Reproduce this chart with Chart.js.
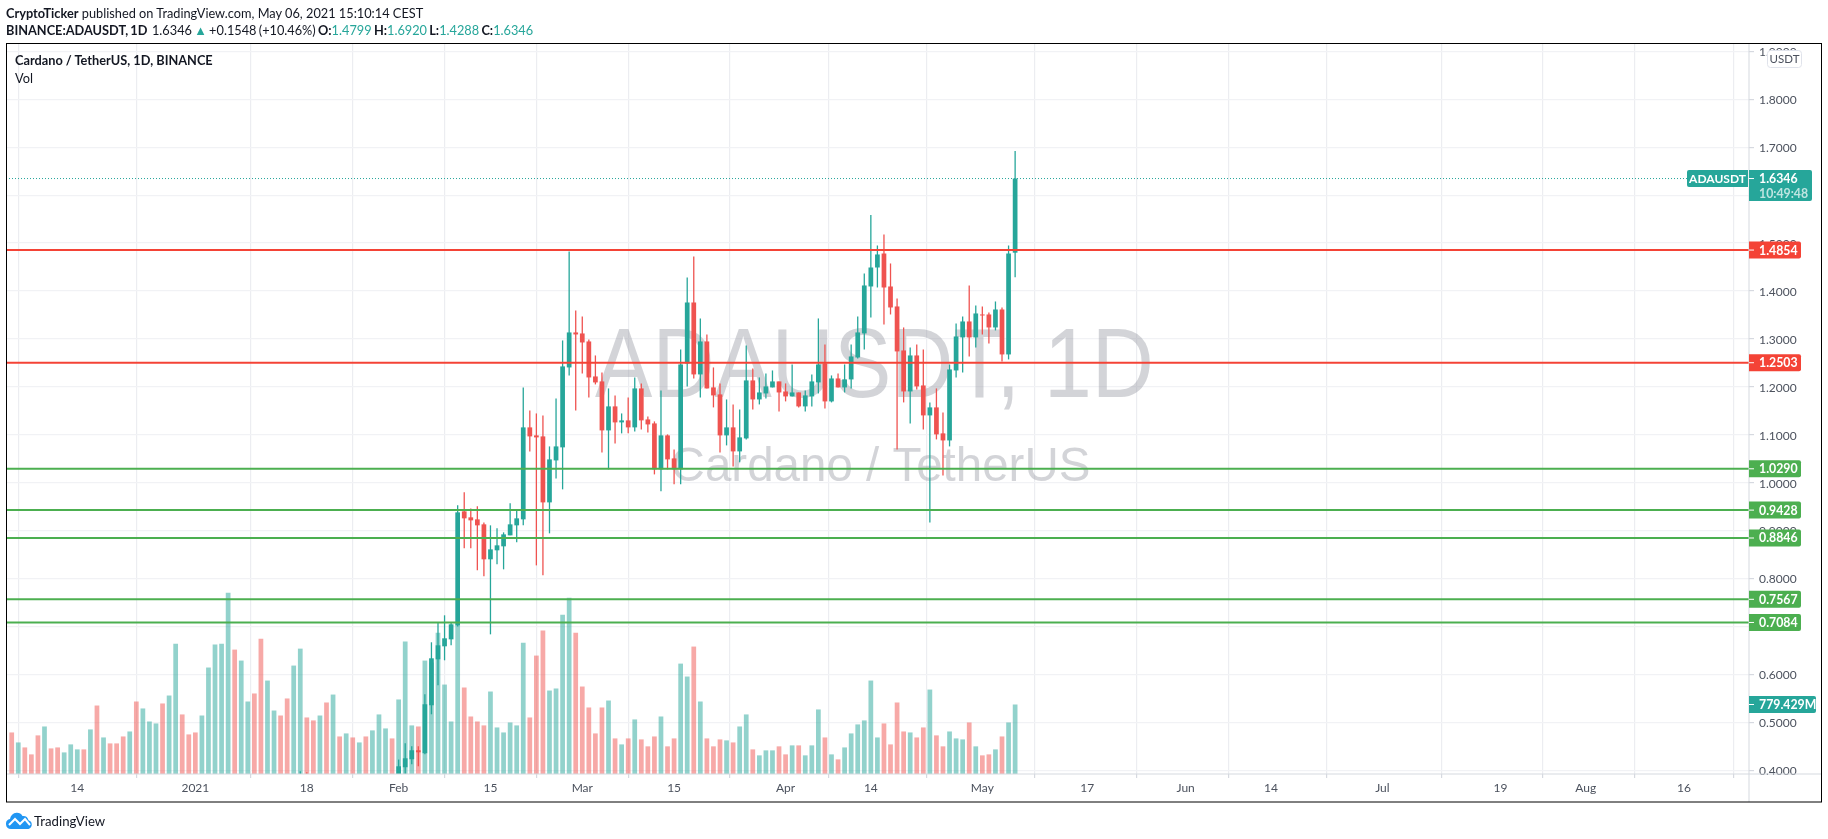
<!DOCTYPE html>
<html>
<head>
<meta charset="utf-8">
<title>ADAUSDT 1D</title>
<script src="https://cdn.jsdelivr.net/npm/chart.js@4"></script>
<style>
    html, body { margin: 0; padding: 0; background: #fff; overflow: hidden; }
    #wrap { position: relative; width: 1828px; height: 839px; font-family: Lato, sans-serif; color: #131722; }
    #chart { position: absolute; left: 0; top: 0; }
    .txt { position: absolute; white-space: nowrap; font-size: 12.75px; line-height: 16px; }
    .txt b { font-weight: 700; }
    .up { color: #26a69a; }
</style>
</head>
<body>
<div id="wrap">
    <canvas id="chart" width="1828" height="839"></canvas>
    <div class="txt" style="left:6px;top:5px"><b>CryptoTicker</b> published on TradingView.com, May 06, 2021 15:10:14 CEST</div>
    <div class="txt" style="left:6px;top:22px;word-spacing:-1px"><b>BINANCE:ADAUSDT, 1D</b>&nbsp; 1.6346 <span class="up">▲</span> +0.1548 (+10.46%) <b>O:</b><span class="up">1.4799</span> <b>H:</b><span class="up">1.6920</span> <b>L:</b><span class="up">1.4288</span> <b>C:</b><span class="up">1.6346</span></div>
    <div class="txt" style="left:15px;top:52px"><b>Cardano / TetherUS, 1D, BINANCE</b></div>
    <div class="txt" style="left:15px;top:70px">Vol</div>
    <svg style="position:absolute;left:6px;top:812px" width="27" height="17" viewBox="0 0 27 17">
        <path fill="#2196f3" d="M5 17a5 5 0 0 1-1-9.9A7 7 0 0 1 10.500.8 6.500 6.500 0 0 1 16.500 4a5.500 5.500 0 0 1 6 4.200A4.600 4.600 0 0 1 22.500 17z"/>
        <path fill="none" stroke="#fff" stroke-width="2" d="M3 13l6-6 5 5 5-5 5 6"/>
    </svg>
    <div class="txt" style="left:34px;top:813px;font-size:13.2px">TradingView</div>
</div>

<script>
// ==================== DATA ====================
// days are counted from 1 Jan 2021 (0 = 1 Jan)
const firstVolumeDay = -28;
const firstCandleDay = 16;

const xTickDays = [-18, 0, 17, 31, 45, 59, 73, 90, 103, 120, 136, 151, 164, 181, 199, 212, 227];
const xTickLabels = ['14', '2021', '18', 'Feb', '15', 'Mar', '15', 'Apr', '14', 'May', '17', 'Jun', '14', 'Jul', '19', 'Aug', '16'];
const priceTicks = [0.4, 0.5, 0.6, 0.7, 0.8, 0.9, 1.0, 1.1, 1.2, 1.3, 1.4, 1.5, 1.6, 1.7, 1.8, 1.9];

const opens = [
    0.332, 0.372, 0.363, 0.350, 0.372, 0.335, 0.345, 0.320, 0.335, 0.330, 0.355, 0.340, 0.355, 0.360, 0.375,
    0.362, 0.4063, 0.4230, 0.4417, 0.4355, 0.5356, 0.6315, 0.6586, 0.6732, 0.7024,
    0.9402, 0.9277, 0.9235, 0.9131, 0.8401, 0.8589, 0.8672, 0.8901, 0.9110, 0.9235,
    1.1154, 1.0987, 1.0966, 0.9589, 1.0465, 1.0737, 1.2405, 1.3135, 1.3114, 1.2947,
    1.2217, 1.2113, 1.1091, 1.1592, 1.1258, 1.1300, 1.1154, 1.1967, 1.1320, 1.1237,
    1.0278, 1.0987, 1.0507, 1.0278, 1.2488, 1.3760, 1.2259, 1.2947, 1.1988, 1.1842,
    1.0987, 1.1154, 1.0653, 1.0924, 1.2134, 1.1737, 1.1862, 1.1988, 1.2113, 1.1904,
    1.1800, 1.1883, 1.1592, 1.1800, 1.2092, 1.2488, 1.1696, 1.2175, 1.1988, 1.2155,
    1.2613, 1.3114, 1.4094, 1.4490, 1.4782, 1.4094, 1.3677, 1.2759, 1.1904, 1.2655,
    1.2029, 1.1404, 1.1571, 1.1029, 1.0882, 1.2342, 1.3031, 1.3364, 1.3031, 1.3510,
    1.3510, 1.3239, 1.3614, 1.2676, 1.4799
];
const highs = [
    0.398, 0.396, 0.385, 0.378, 0.380, 0.355, 0.350, 0.345, 0.350, 0.370, 0.375, 0.365, 0.375, 0.385, 0.388,
    0.4223, 0.4563, 0.4500, 0.4500, 0.5585, 0.6670, 0.7087, 0.7233, 0.7087, 0.9527,
    0.9798, 0.9464, 0.9506, 0.9172, 0.9110, 0.9047, 0.8964, 0.9569, 0.9422, 1.1988,
    1.1508, 1.1445, 1.1404, 1.0757, 1.1758, 1.2968, 1.4824, 1.3594, 1.3469, 1.2989,
    1.2655, 1.2301, 1.1967, 1.1821, 1.1445, 1.1779, 1.2196, 1.2071, 1.1383, 1.1279,
    1.1925, 1.1008, 1.0695, 1.2780, 1.4282, 1.4720, 1.3427, 1.3093, 1.2405, 1.2071,
    1.1737, 1.1633, 1.1529, 1.2864, 1.2384, 1.2196, 1.2280, 1.2342, 1.2113, 1.2071,
    1.2467, 1.1883, 1.1925, 1.2259, 1.3427, 1.2884, 1.2238, 1.2280, 1.2467, 1.2884,
    1.3469, 1.4365, 1.5585, 1.4949, 1.5179, 1.4574, 1.3844, 1.3239, 1.2822, 1.2884,
    1.2780, 1.1675, 1.1967, 1.1466, 1.2467, 1.3323, 1.3469, 1.4115, 1.3698, 1.3677,
    1.3552, 1.3781, 1.3656, 1.4949, 1.6920
];
const lows = [
    0.319, 0.338, 0.345, 0.340, 0.325, 0.300, 0.305, 0.310, 0.325, 0.320, 0.320, 0.330, 0.340, 0.345, 0.350,
    0.350, 0.385, 0.4125, 0.4083, 0.4334, 0.5168, 0.5773, 0.6294, 0.6607, 0.7000,
    0.8630, 0.8630, 0.8171, 0.8046, 0.6836, 0.8296, 0.8192, 0.8901, 0.8755, 0.9110,
    1.0653, 0.8275, 0.8067, 0.8943, 1.0090, 0.9861, 1.2238, 1.1508, 1.2280, 1.1779,
    1.2050, 1.0632, 1.0278, 1.0820, 1.1029, 1.1029, 1.1070, 1.1112, 1.1049, 1.0173,
    0.9819, 1.0278, 0.9965, 0.9965, 1.2009, 1.2175, 1.1779, 1.1967, 1.1571, 1.0632,
    1.0778, 1.0340, 1.0424, 1.0903, 1.1529, 1.1633, 1.1758, 1.1988, 1.1487, 1.1696,
    1.1800, 1.1571, 1.1487, 1.1592, 1.1862, 1.1550, 1.1675, 1.1988, 1.1883, 1.1967,
    1.2593, 1.2780, 1.3448, 1.4073, 1.3302, 1.3510, 1.0695, 1.1675, 1.1237, 1.1946,
    1.1112, 0.9172, 1.0903, 1.0152, 1.0757, 1.2196, 1.2301, 1.2634, 1.2822, 1.3093,
    1.2906, 1.3177, 1.2530, 1.2572, 1.4288
];
const closes = [
    0.372, 0.363, 0.350, 0.372, 0.335, 0.345, 0.320, 0.335, 0.330, 0.355, 0.340, 0.355, 0.360, 0.375, 0.362,
    0.4083, 0.4250, 0.4417, 0.4375, 0.5377, 0.6336, 0.6607, 0.6753, 0.7045, 0.9381,
    0.9256, 0.9214, 0.9110, 0.8401, 0.8609, 0.8693, 0.8922, 0.9131, 0.9256, 1.1154,
    1.0966, 1.0945, 0.9589, 1.0486, 1.0757, 1.2426, 1.3135, 1.3093, 1.2926, 1.2196,
    1.2092, 1.1091, 1.1592, 1.1258, 1.1300, 1.1154, 1.1967, 1.1300, 1.1216, 1.0278,
    1.0987, 1.0486, 1.0278, 1.2467, 1.3760, 1.2259, 1.2947, 1.1967, 1.1821, 1.0987,
    1.1154, 1.0653, 1.0945, 1.2134, 1.1737, 1.1883, 1.2009, 1.2113, 1.1883, 1.1800,
    1.1883, 1.1592, 1.1821, 1.2113, 1.2467, 1.1696, 1.2175, 1.1988, 1.2155, 1.2634,
    1.3135, 1.4115, 1.4490, 1.4762, 1.4073, 1.3656, 1.2739, 1.1904, 1.2655, 1.2009,
    1.1404, 1.1571, 1.1008, 1.0882, 1.2363, 1.3051, 1.3364, 1.3031, 1.3531, 1.3489,
    1.3239, 1.3614, 1.2676, 1.4782, 1.6346
];

// volume in millions, 1 = up day, 0 = down day
const volumes = [
    466, 354, 298, 220, 433, 533, 287, 298, 242, 332, 276, 276, 500, 768, 410, 343, 343, 421, 477, 813,
    735, 589, 567, 791, 880, 1462, 668, 444, 466, 656, 1194, 1451, 1462, 2033, 1395, 1272, 813, 903, 1518, 1048,
    712, 656, 847, 1216, 1406, 634, 601, 656, 802, 891, 421, 455, 410, 354, 421, 489, 668, 511, 399, 836,
    1485, 545, 533, 1272, 1250, 1585, 1003, 589, 1675, 970, 645, 589, 545, 925, 522, 466, 578, 545, 1473, 634,
    1328, 1608, 936, 959, 1787, 1977, 1585, 981, 746, 455, 746, 824, 399, 332, 399, 612, 388, 310, 421, 645,
    310, 399, 1238, 1093, 1429, 813, 399, 310, 388, 377, 354, 533, 668, 276, 209, 265, 265, 310, 220, 321,
    321, 209, 321, 724, 410, 220, 164, 298, 455, 556, 601, 1048, 410, 567, 332, 802, 477, 466, 410, 522,
    947, 433, 310, 477, 399, 388, 578, 310, 209, 220, 276, 421, 578, 779.429
];
const volumeUp = [
    0, 1, 0, 0, 0, 1, 0, 0, 1, 1, 1, 0, 1, 0, 1, 0, 0, 0, 1, 0,
    1, 1, 1, 0, 1, 1, 0, 0, 0, 1, 1, 1, 1, 1, 0, 1, 1, 0, 0, 1,
    1, 0, 0, 1, 1, 0, 0, 1, 0, 1, 0, 1, 0, 1, 0, 1, 1, 1, 0, 1,
    1, 1, 0, 1, 1, 1, 1, 1, 1, 0, 0, 0, 0, 1, 1, 1, 1, 1, 1, 0,
    0, 0, 1, 1, 1, 1, 0, 0, 0, 0, 0, 1, 0, 1, 0, 1, 0, 0, 0, 1,
    0, 0, 1, 1, 0, 1, 0, 0, 0, 1, 0, 1, 1, 0, 1, 1, 1, 0, 0, 1,
    0, 1, 1, 1, 0, 1, 0, 1, 1, 1, 1, 1, 1, 0, 0, 0, 0, 1, 0, 0,
    1, 0, 0, 1, 1, 1, 0, 1, 0, 0, 1, 0, 1, 1
];

const resistanceLevels = [1.4854, 1.2503];
const supportLevels = [1.0290, 0.9428, 0.8846, 0.7567, 0.7084];
const lastPrice = 1.6346;
const lastVolume = 779.429;

// ==================== COLORS AND AXIS RANGES ====================
const UP = '#26a69a';
const DOWN = '#ef5350';
const UP_VOL = 'rgba(38, 166, 154, 0.5)';
const DOWN_VOL = 'rgba(239, 83, 80, 0.5)';
const RED_LINE = '#f44336';
const GREEN_LINE = '#4caf50';
const GRID_H = '#f1f2f5';
const GRID_V = '#ecedf1';
const AXIS = '#d6d9e0';
const TEXT = '#4c525e';

const xMin = -28.87, xMax = 236.9;
const priceMin = 0.3922, priceMax = 1.9174;
const volumeMax = 8198;

// ==================== DATASETS ====================
const candleDays = opens.map((o, i) => firstCandleDay + i);
const candleColors = opens.map((o, i) => closes[i] >= o ? UP : DOWN);

function levelLine(value, color) {
    return {
        type: 'line',
        data: [{ x: xMin, y: value }, { x: xMax, y: value }],
        yAxisID: 'y',
        borderColor: color,
        borderWidth: 2,
        pointRadius: 0,
        order: 1
    };
}

const datasets = [
    {
        data: volumes.map((v, i) => ({ x: firstVolumeDay + i, y: v })),
        yAxisID: 'vol',
        backgroundColor: volumeUp.map(u => u ? UP_VOL : DOWN_VOL),
        grouped: false,
        maxBarThickness: 5.3,
        order: 5
    },
    {
        data: candleDays.map((d, i) => ({ x: d, y: [lows[i], highs[i]] })),
        yAxisID: 'y',
        backgroundColor: candleColors,
        grouped: false,
        maxBarThickness: 1.3,
        order: 4
    },
    {
        data: candleDays.map((d, i) => ({ x: d, y: [opens[i], closes[i]] })),
        yAxisID: 'y',
        backgroundColor: candleColors,
        grouped: false,
        maxBarThickness: 5,
        order: 3
    },
    {
        // dotted last price line runs under the symbol tag
        type: 'line',
        data: [{ x: xMin, y: lastPrice }, { x: xMax, y: lastPrice }],
        yAxisID: 'y',
        borderColor: UP,
        borderWidth: 1,
        borderDash: [1, 2],
        pointRadius: 0,
        order: 2
    }
].concat(
    resistanceLevels.map(v => levelLine(v, RED_LINE)),
    supportLevels.map(v => levelLine(v, GREEN_LINE))
);

// ==================== OVERLAY PLUGIN ====================
function priceTag(ctx, text, y, color, width, height, topY) {
    const left = 1749;
    const top = topY === undefined ? y - 8.5 : topY;
    ctx.fillStyle = color;
    ctx.beginPath();
    ctx.roundRect(left, top, width, height, [0, 2, 2, 0]);
    ctx.fill();
    ctx.fillStyle = '#fff';
    ctx.fillRect(left, y - 0.5, 5, 1);
    ctx.textAlign = 'left';
    ctx.textBaseline = 'middle';
    ctx.font = '700 12.3px Lato, sans-serif';
    ctx.fillText(text, left + 10, y + 0.5);
}

const overlay = {
    id: 'overlay',
    beforeDatasetsDraw(chart) {
        const ctx = chart.ctx;
        const mid = (chart.chartArea.left + chart.chartArea.right) / 2;
        ctx.save();
        ctx.fillStyle = 'rgba(149, 152, 161, 0.42)';
        ctx.textAlign = 'center';
        ctx.textBaseline = 'alphabetic';
        ctx.font = '47.5px "Liberation Sans", sans-serif';
        ctx.fillText('Cardano / TetherUS', mid + 3, 481);
        // the big symbol is narrower than plain Liberation Sans
        ctx.translate(mid - 3, 397);
        ctx.scale(0.877, 1);
        ctx.font = '98px "Liberation Sans", sans-serif';
        ctx.fillText('ADAUSDT, 1D', 0, 0);
        ctx.restore();
    },
    afterDraw(chart) {
        const ctx = chart.ctx;
        const y = chart.scales.y;
        const vol = chart.scales.vol;
        const area = chart.chartArea;
        ctx.save();

        // axis lines
        ctx.fillStyle = AXIS;
        ctx.fillRect(area.right - 0.5, area.top, 1, 802 - area.top);
        ctx.fillRect(area.left, area.bottom - 0.5, 1822 - area.left, 1);

        // price labels
        resistanceLevels.forEach(v => {
            priceTag(ctx, v.toFixed(4), y.getPixelForValue(v), RED_LINE, 52, 17);
        });
        supportLevels.forEach(v => {
            priceTag(ctx, v.toFixed(4), y.getPixelForValue(v), GREEN_LINE, 52, 17);
        });

        // last price with countdown
        const py = y.getPixelForValue(lastPrice);
        priceTag(ctx, lastPrice.toFixed(4), py, UP, 63, 31, py - 8.5);
        ctx.fillStyle = 'rgba(255, 255, 255, 0.7)';
        ctx.fillText('10:49:48', area.right + 10, py + 15);

        // symbol tag
        ctx.fillStyle = UP;
        ctx.beginPath();
        ctx.roundRect(1687, py - 8.5, 61, 17, [2, 0, 0, 2]);
        ctx.fill();
        ctx.fillStyle = '#fff';
        ctx.textAlign = 'center';
        ctx.font = '700 12px Lato, sans-serif';
        ctx.fillText('ADAUSDT', 1717.5, py + 0.5);

        // last volume
        priceTag(ctx, lastVolume.toFixed(3) + 'M', vol.getPixelForValue(lastVolume), UP, 67, 17);

        // currency chip
        ctx.fillStyle = '#fff';
        ctx.strokeStyle = '#e0e3eb';
        ctx.beginPath();
        ctx.roundRect(1767.5, 50.5, 34, 17, 3);
        ctx.fill();
        ctx.stroke();
        ctx.fillStyle = TEXT;
        ctx.textAlign = 'center';
        ctx.font = '11.5px Lato, sans-serif';
        ctx.fillText('USDT', 1784.5, 59.5);

        // outer frame
        ctx.strokeStyle = '#000';
        ctx.lineWidth = 1;
        ctx.strokeRect(6.5, 43.5, 1815, 758.5);
        ctx.restore();
    }
};

// ==================== CHART ====================
new Chart(document.getElementById('chart'), {
    type: 'bar',
    data: { datasets: datasets },
    plugins: [overlay],
    options: {
        responsive: false,
        animation: false,
        events: [],
        layout: { padding: { left: 6, top: 43, right: 6, bottom: 37 } },
        plugins: { legend: { display: false }, tooltip: { enabled: false } },
        scales: {
            x: {
                type: 'linear',
                offset: false,
                min: xMin,
                max: xMax,
                afterBuildTicks: s => { s.ticks = xTickDays.map(v => ({ value: v })); },
                afterFit: s => { s.height = 28; },
                grid: { color: GRID_V, tickColor: AXIS, tickLength: 4, lineWidth: 1.2 },
                border: { display: false },
                ticks: {
                    autoSkip: false,
                    maxRotation: 0,
                    padding: 3,
                    color: TEXT,
                    font: { family: 'Lato, sans-serif', size: 12 },
                    callback: v => xTickLabels[xTickDays.indexOf(v)]
                }
            },
            y: {
                position: 'right',
                min: priceMin,
                max: priceMax,
                afterBuildTicks: s => { s.ticks = priceTicks.map(v => ({ value: v })); },
                afterFit: s => { s.width = 73; },
                grid: { color: GRID_H, tickColor: AXIS, tickLength: 5, lineWidth: 1.2 },
                border: { display: false },
                ticks: {
                    autoSkip: false,
                    crossAlign: 'near',
                    padding: 5,
                    labelOffset: 1,
                    color: TEXT,
                    font: { family: 'Lato, sans-serif', size: 12 },
                    callback: v => v.toFixed(4)
                }
            },
            vol: {
                display: false,
                position: 'left',
                min: 0,
                max: volumeMax
            }
        }
    }
});
</script>
</body>
</html>
